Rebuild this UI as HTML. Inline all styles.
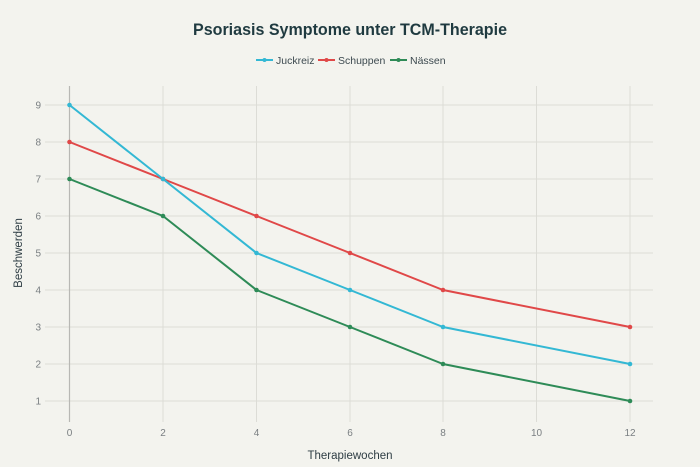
<!DOCTYPE html>
<html><head><meta charset="utf-8"><style>
html,body{margin:0;padding:0;background:#f3f3ee;}
svg{display:block;font-family:"Liberation Sans",sans-serif;}
</style></head><body>
<svg width="700" height="467" viewBox="0 0 700 467">
<rect width="700" height="467" fill="#f3f3ee"/>
<text x="350" y="35" text-anchor="middle" font-size="16.5" font-weight="bold" fill="#1f3a40" textLength="314" lengthAdjust="spacingAndGlyphs">Psoriasis Symptome unter TCM-Therapie</text>
<g font-size="10.5" fill="#3d4a50">
<line x1="256" y1="60" x2="273" y2="60" stroke="#33b8d4" stroke-width="2"/><circle cx="264.5" cy="60" r="2" fill="#33b8d4"/>
<text x="276" y="64">Juckreiz</text>
<line x1="318" y1="60" x2="335" y2="60" stroke="#e04848" stroke-width="2"/><circle cx="326.5" cy="60" r="2" fill="#e04848"/>
<text x="338" y="64">Schuppen</text>
<line x1="390" y1="60" x2="407" y2="60" stroke="#2e8b57" stroke-width="2"/><circle cx="398.5" cy="60" r="2" fill="#2e8b57"/>
<text x="410" y="64">Nässen</text>
</g>
<g stroke="#dcdcd6" stroke-width="1">
<line x1="45" x2="653" y1="105" y2="105"/><line x1="45" x2="653" y1="142" y2="142"/><line x1="45" x2="653" y1="179" y2="179"/><line x1="45" x2="653" y1="216" y2="216"/><line x1="45" x2="653" y1="253" y2="253"/><line x1="45" x2="653" y1="290" y2="290"/><line x1="45" x2="653" y1="327" y2="327"/><line x1="45" x2="653" y1="364" y2="364"/><line x1="45" x2="653" y1="401" y2="401"/>
<line x1="163" x2="163" y1="86" y2="422"/><line x1="256.5" x2="256.5" y1="86" y2="422"/><line x1="350" x2="350" y1="86" y2="422"/><line x1="443" x2="443" y1="86" y2="422"/><line x1="536.5" x2="536.5" y1="86" y2="422"/><line x1="630" x2="630" y1="86" y2="422"/>
</g>
<line x1="69.5" x2="69.5" y1="86" y2="422" stroke="#b8b8b4" stroke-width="1.2"/>
<g font-size="10" fill="#7a7f82" text-anchor="end">
<text x="41" y="108.5">9</text><text x="41" y="145.5">8</text><text x="41" y="182.5">7</text><text x="41" y="219.5">6</text><text x="41" y="256.5">5</text><text x="41" y="293.5">4</text><text x="41" y="330.5">3</text><text x="41" y="367.5">2</text><text x="41" y="404.5">1</text>
</g>
<g font-size="10" fill="#7a7f82" text-anchor="middle">
<text x="69.5" y="436">0</text><text x="163" y="436">2</text><text x="256.5" y="436">4</text><text x="350" y="436">6</text><text x="443" y="436">8</text><text x="536.5" y="436">10</text><text x="630" y="436">12</text>
</g>
<text x="350" y="459" text-anchor="middle" font-size="11.5" fill="#2e3d44">Therapiewochen</text>
<text transform="translate(22,253) rotate(-90)" text-anchor="middle" font-size="11.5" fill="#2e3d44">Beschwerden</text>
<g fill="none" stroke-width="2" stroke-linejoin="round">
<polyline stroke="#e04848" points="69.5,142 163,179 256.5,216 350,253 443,290 630,327"/>
<polyline stroke="#33b8d4" points="69.5,105 163,179 256.5,253 350,290 443,327 630,364"/>
<polyline stroke="#2e8b57" points="69.5,179 163,216 256.5,290 350,327 443,364 630,401"/>
</g>
<g fill="#e04848"><circle cx="69.5" cy="142" r="2.3"/><circle cx="163" cy="179" r="2.3"/><circle cx="256.5" cy="216" r="2.3"/><circle cx="350" cy="253" r="2.3"/><circle cx="443" cy="290" r="2.3"/><circle cx="630" cy="327" r="2.3"/></g>
<g fill="#33b8d4"><circle cx="69.5" cy="105" r="2.3"/><circle cx="163" cy="179" r="2.3"/><circle cx="256.5" cy="253" r="2.3"/><circle cx="350" cy="290" r="2.3"/><circle cx="443" cy="327" r="2.3"/><circle cx="630" cy="364" r="2.3"/></g>
<g fill="#2e8b57"><circle cx="69.5" cy="179" r="2.3"/><circle cx="163" cy="216" r="2.3"/><circle cx="256.5" cy="290" r="2.3"/><circle cx="350" cy="327" r="2.3"/><circle cx="443" cy="364" r="2.3"/><circle cx="630" cy="401" r="2.3"/></g>
</svg>
</body></html>
